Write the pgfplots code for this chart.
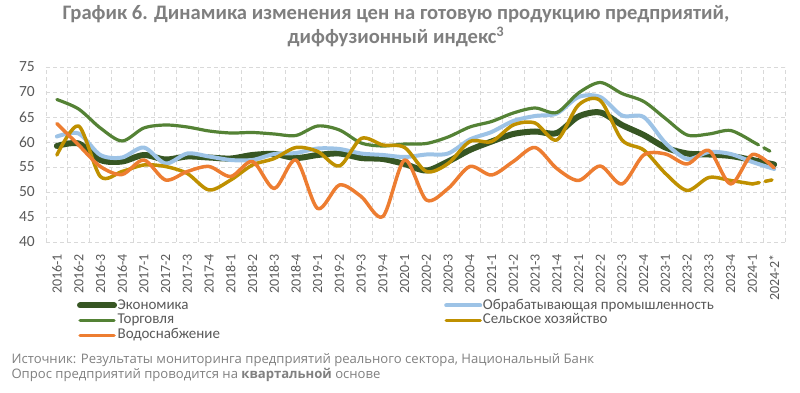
\documentclass[border=0pt]{standalone}
\usepackage{fontspec}
\setmainfont{Carlito}
\newfontfamily\srcfont{Open Sans}
\usepackage{pgfplots}
\pgfplotsset{compat=1.18}
\definecolor{cEco}{HTML}{375623}
\definecolor{cTrd}{HTML}{548235}
\definecolor{cMan}{HTML}{9DC3E6}
\definecolor{cAgr}{HTML}{BF9000}
\definecolor{cWat}{HTML}{ED7D31}
\definecolor{cTxt}{HTML}{595959}
\definecolor{cTitle}{HTML}{7F7F7F}
\definecolor{cSrc}{HTML}{808080}
\definecolor{cGrid}{HTML}{D9D9D9}
\begin{document}
\begin{tikzpicture}[x=1pt,y=1pt]
\path[use as bounding box] (0,0) rectangle (800,393);
\node[anchor=base,text=cTitle,font=\fontsize{20.6}{24}\selectfont\bfseries] at (396,373) {График 6. Динамика изменения цен на готовую продукцию предприятий,};
\node[anchor=base,text=cTitle,font=\fontsize{20.6}{24}\selectfont\bfseries] at (396,349) {диффузионный индекс\textsuperscript{3}};
\begin{axis}[
  at={(46pt,151pt)}, anchor=south west,
  scale only axis, width=739pt, height=175pt,
  xmin=-0.5, xmax=33.5, ymin=40, ymax=75,
  xtick={0,...,33},
  xticklabels={2016-1,2016-2,2016-3,2016-4,2017-1,2017-2,2017-3,2017-4,2018-1,2018-2,2018-3,2018-4,2019-1,2019-2,2019-3,2019-4,2020-1,2020-2,2020-3,2020-4,2021-1,2021-2,2021-3,2021-4,2022-1,2022-2,2022-3,2022-4,2023-1,2023-2,2023-3,2023-4,2024-1,2024-2*},
  minor xtick={-0.5,0.5,1.5,2.5,3.5,4.5,5.5,6.5,7.5,8.5,9.5,10.5,11.5,12.5,13.5,14.5,15.5,16.5,17.5,18.5,19.5,20.5,21.5,22.5,23.5,24.5,25.5,26.5,27.5,28.5,29.5,30.5,31.5,32.5,33.5},
  ytick={40,45,...,75},
  xminorgrids=true, ymajorgrids=true,
  major grid style={draw=cGrid, dash pattern=on 4pt off 3pt, line width=0.8pt},
  minor grid style={draw=cGrid, dash pattern=on 4pt off 3pt, line width=0.8pt},
  axis line style={draw=none},
  major tick style={draw=none}, minor tick style={draw=none},
  /pgf/number format/assume math mode=true,
  x tick label style={rotate=90, anchor=east, inner sep=0pt, text=cTxt, font=\fontsize{14}{16}\selectfont},
  xticklabel shift=12pt,
  y tick label style={anchor=east, inner sep=0pt, text=cTxt, font=\fontsize{15.5}{17}\selectfont},
  yticklabel shift=11pt,
  legend columns=2,
  legend cell align=left,
  legend image code/.code={\draw[#1] (0pt,0pt) -- (34pt,0pt);},
  legend style={at={(0.042,-0.32)}, anchor=north west, draw=none, fill=none,
    inner sep=0pt, outer sep=0pt, column sep=0pt,
    font=\fontsize{15}{17}\selectfont, text=cTxt,
    nodes={inner sep=0.6pt, text height=10.5pt, text depth=3.2pt},
    /tikz/every odd column/.append style={column sep=0pt}},
  every axis plot/.append style={smooth, line cap=round, line join=round},
]
\draw[cGrid, line width=0.8pt] (axis cs:-0.5,40) -- (axis cs:33.5,40);
% Economy
\addplot[cEco, line width=6pt] coordinates {
(0,59.2)(1,59.7)(2,56.4)(3,56.1)(4,57.4)(5,56.5)(6,57.1)(7,56.9)(8,56.7)(9,57.4)(10,57.6)(11,56.8)(12,57.4)(13,57.7)(14,56.8)(15,56.6)(16,55.6)(17,54.3)(18,56.1)(19,58.4)(20,60.1)(21,61.6)(22,62.1)(23,61.8)(24,65.1)(25,65.9)(26,63.4)(27,61.4)(28,58.9)(29,57.7)(30,57.5)(31,57.2)(32,56.4)(33,55.5)};
\addlegendentry{\makebox[326pt][l]{Экономика}}
% Manufacturing
\addplot[cMan, line width=4pt] coordinates {
(0,61.1)(1,61.7)(2,57.4)(3,56.9)(4,58.9)(5,55.7)(6,57.7)(7,57.1)(8,56.4)(9,56.4)(10,57.6)(11,57.8)(12,58.7)(13,58.6)(14,57.7)(15,57.4)(16,57.0)(17,57.5)(18,57.7)(19,60.5)(20,62.0)(21,64.2)(22,65.2)(23,65.7)(24,69.0)(25,69.0)(26,65.3)(27,65.0)(28,59.8)(29,56.6)(30,58.0)(31,57.6)(32,56.0)(33,54.6)};
\addlegendentry{Обрабатывающая промышленность}
% Trade
\addplot[cTrd, line width=3.2pt] coordinates {
(0,68.5)(1,66.6)(2,62.8)(3,60.2)(4,62.8)(5,63.4)(6,63.0)(7,62.2)(8,61.8)(9,61.9)(10,61.6)(11,61.3)(12,63.2)(13,62.4)(14,59.8)(15,59.2)(16,59.6)(17,59.7)(18,61.0)(19,63.0)(20,64.1)(21,65.8)(22,66.8)(23,65.9)(24,69.8)(25,71.9)(26,69.7)(27,68.1)(28,64.7)(29,61.4)(30,61.6)(31,62.3)(32,60.1)};
\addlegendentry{\makebox[326pt][l]{Торговля}}
\addplot[cTrd, line width=3.2pt, dash pattern=on 7pt off 6pt, forget plot] coordinates {(32,60.1)(33,57.7)};
% Agriculture
\addplot[cAgr, line width=3.5pt] coordinates {
(0,57.4)(1,63.2)(2,53.1)(3,54.1)(4,55.4)(5,55.1)(6,53.7)(7,50.4)(8,52.4)(9,55.4)(10,56.7)(11,58.9)(12,58.1)(13,55.2)(14,60.7)(15,59.4)(16,58.9)(17,54.1)(18,55.7)(19,60.1)(20,60.1)(21,63.4)(22,63.8)(23,60.4)(24,67.4)(25,68.3)(26,60.4)(27,58.4)(28,53.7)(29,50.3)(30,52.9)(31,52.3)(32,51.6)};
\addlegendentry{Сельское хозяйство}
\addplot[cAgr, line width=3.5pt, dash pattern=on 7pt off 6pt, forget plot] coordinates {(32,51.6)(33,52.5)};
% Water
\addplot[cWat, line width=3.5pt] coordinates {
(0,63.7)(1,59.4)(2,55.1)(3,53.5)(4,56.4)(5,52.4)(6,54.1)(7,55.1)(8,53.1)(9,56.1)(10,50.7)(11,56.4)(12,46.7)(13,51.4)(14,49.1)(15,45.1)(16,56.4)(17,48.4)(18,50.7)(19,55.1)(20,53.4)(21,56.1)(22,58.9)(23,54.7)(24,52.3)(25,55.2)(26,51.6)(27,57.4)(28,57.6)(29,55.6)(30,58.3)(31,51.6)(32,57.5)(33,54.8)};
\addlegendentry{Водоснабжение}
\end{axis}
\node[anchor=base west,text=cSrc,font=\srcfont\fontsize{13.1}{15}\selectfont] at (8,29) {Источник: Результаты мониторинга предприятий реального сектора, Национальный Банк};
\node[anchor=base west,text=cSrc,font=\srcfont\fontsize{13.1}{15}\selectfont] at (8,14) {Опрос предприятий проводится на \textbf{квартальной} основе};
\end{tikzpicture}
\end{document}
